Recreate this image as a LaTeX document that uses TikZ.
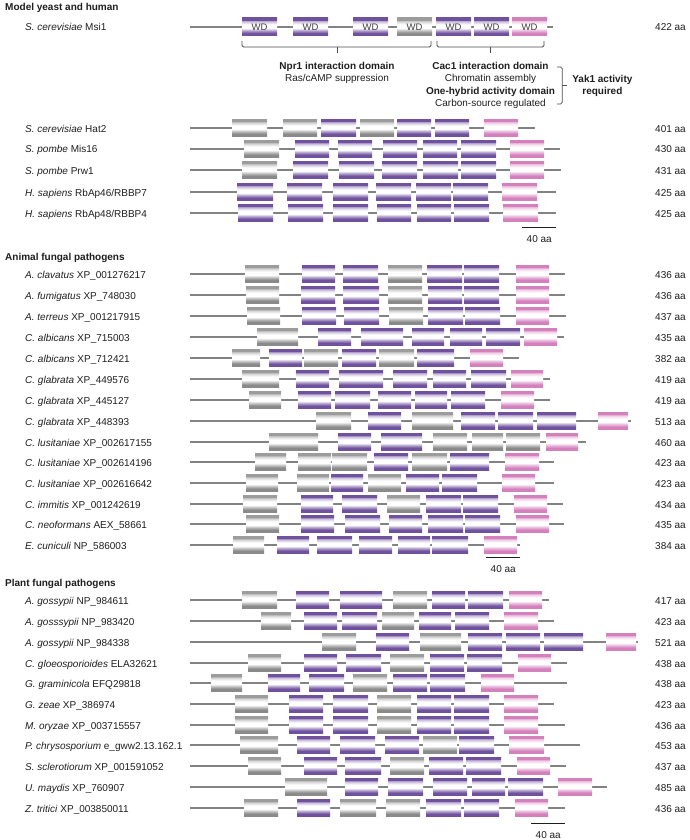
\documentclass[tikz,border=0pt]{standalone}
\usepackage{fontspec}
\setmainfont{Liberation Sans}
\usepackage{xcolor}
\usepackage{tikz}
\usetikzlibrary{positioning,calc}
\definecolor{ink}{RGB}{30,30,30}
\definecolor{wdpurple}{RGB}{111,81,158}
\definecolor{wdpink}{RGB}{212,128,188}
\definecolor{wdgray}{RGB}{138,138,138}
\definecolor{linkgray}{RGB}{130,130,130}
\pgfdeclareverticalshading{bladep}{100bp}{color(0bp)=(wdpurple); color(33bp)=(wdpurple);
  color(40bp)=(wdpurple!55); color(47bp)=(white); color(57bp)=(white); color(64bp)=(wdpurple!30);
  color(68bp)=(wdpurple!55); color(69bp)=(wdpurple); color(100bp)=(wdpurple)}
\pgfdeclareverticalshading{bladek}{100bp}{color(0bp)=(wdpink); color(33bp)=(wdpink);
  color(40bp)=(wdpink!55); color(47bp)=(white); color(57bp)=(white); color(64bp)=(wdpink!30);
  color(68bp)=(wdpink!55); color(69bp)=(wdpink); color(100bp)=(wdpink)}
\pgfdeclareverticalshading{bladeg}{100bp}{color(0bp)=(wdgray); color(33bp)=(wdgray);
  color(40bp)=(wdgray!55); color(47bp)=(white); color(57bp)=(white); color(64bp)=(wdgray!30);
  color(68bp)=(wdgray!55); color(69bp)=(wdgray!85); color(100bp)=(wdgray!85)}
\tikzset{
  backbone/.style={line width=2.6pt,linkgray},
  blade/.style={shade,draw=none},
  wdbox/.style={blade,inner sep=0pt,outer sep=0pt,minimum height=18pt,
    font=\fontsize{9.5}{11}\selectfont,text=ink!85},
  rowlabel/.style={anchor=base west,inner sep=0pt,font=\fontsize{10}{12}\selectfont,text=ink},
  heading/.style={rowlabel,font=\fontsize{10}{12}\selectfont\bfseries},
  bracket/.style={line width=0.8pt,ink!80,rounded corners=1.5pt},
  domtext/.style={align=center,inner sep=0pt,font=\fontsize{10}{12.4}\selectfont,text=ink},
  scalebar/.style={line width=0.8pt,ink}
}
\begin{document}
\begin{tikzpicture}[x=1pt,y=-1pt]
  \useasboundingbox (0,0) rectangle (689,840);
  % group headings
  \node[heading] (hmodel) at (5,11) {Model yeast and human};
  \node[heading] (hanimal) at (5,260) {Animal fungal pathogens};
  \node[heading] (hplant) at (5,586) {Plant fungal pathogens};
  % Msi1 with its domains
  \draw[backbone] (190,27) -- ({190+0.86*422},27);
  \foreach \a/\b/\t [count=\i] in {242/277/p,293/328/p,353/388/p,397/432/g,436/471/p,474/509/p,512/547/k}
    \node[wdbox,shading=blade\t,minimum width={\b-\a}] (m\i) at ({(\a+\b)/2},27) {WD};
  \node[rowlabel] (msi1) at (25,31) {\textit{S. cerevisiae} Msi1};
  \node[rowlabel] (msi1len) at (655,31) {422 aa};
  \coordinate (npr) at ($(m1.south west)!0.5!(m4.south east)$);
  \coordinate (cac) at ($(m5.south west)!0.5!(m7.south east)$);
  \draw[bracket] ([yshift=-5pt]m1.south west) |- ([xshift=-1pt,yshift=-11pt]m4.south east)
    -- ([xshift=-1pt,yshift=-5pt]m4.south east);
  \draw[bracket] ([yshift=-11pt]npr) -- ++(0,6);
  \draw[bracket] ([xshift=1pt,yshift=-5pt]m5.south west) |- ([xshift=-3pt,yshift=-11pt]m7.south east)
    -- ([xshift=-3pt,yshift=-5pt]m7.south east);
  \draw[bracket] ([xshift=-1pt,yshift=-11pt]cac) -- ++(0,6);
  \node[domtext,anchor=north] (nprtxt) at ([yshift=-26pt]npr)
    {\textbf{Npr1 interaction domain}\\Ras/cAMP suppression};
  \node[domtext,anchor=north] (cactxt) at ([xshift=-1pt,yshift=-26pt]cac)
    {\textbf{Cac1 interaction domain}\\Chromatin assembly\\
     \textbf{One-hybrid activity domain}\\Carbon-source regulated};
  \draw[bracket] ([xshift=2pt,yshift=-5pt]cactxt.north east) -- ++(5,0)
    |- ([xshift=2pt,yshift=5pt]cactxt.south east);
  \coordinate (yakmid) at ($(cactxt.north east)!0.5!(cactxt.south east)$);
  \draw[bracket] ([xshift=7pt]yakmid) -- ++(5,0);
  \node[domtext,font=\fontsize{10}{12}\selectfont\bfseries,right=17pt of yakmid] (yak1)
    {Yak1 activity\\required};
  % homologues: row y / species / id / length / blades
  \foreach \y/\sp/\id/\len/\boxes in {
    128/{S. cerevisiae}/Hat2/401/{232/267/g,283/317/g,321/356/p,360/394/g,397/431/p,435/469/p,484/518/k},
    149/{S. pombe}/Mis16/430/{244/279/g,295/329/p,338/372/p,383/417/p,423/457/p,461/496/p,510/544/k},
    170/{S. pombe}/Prw1/431/{242/277/g,293/328/p,339/374/p,382/417/p,423/458/p,461/496/p,510/544/k},
    192/{H. sapiens}/{RbAp46/RBBP7}/425/{237/273/p,287/322/p,333/368/p,376/411/p,416/451/p,453/488/p,502/537/k},
    213/{H. sapiens}/{RbAp48/RBBP4}/425/{238/273/p,288/323/p,333/368/p,377/411/p,417/451/p,454/489/p,503/538/k},
    274/{A. clavatus}/XP\_001276217/436/{245/279/g,302/335/p,343/378/p,388/422/g,427/462/p,464/499/p,516/549/k},
    295/{A. fumigatus}/XP\_748030/436/{246/279/g,301/335/p,343/379/p,388/422/g,428/462/p,464/499/p,516/549/k},
    316/{A. terreus}/XP\_001217915/437/{247/280/g,302/336/p,344/379/p,389/423/g,428/463/p,465/500/p,516/549/k},
    337/{C. albicans}/XP\_715003/435/{257/298/g,318/351/p,361/403/p,412/444/p,450/482/p,486/520/p,524/557/k},
    358/{C. albicans}/XP\_712421/382/{232/260/g,269/302/p,304/338/g,342/376/p,379/414/g,417/454/p,470/503/k},
    379/{C. glabrata}/XP\_449576/419/{242/279/g,296/329/p,339/383/p,393/427/p,433/466/p,471/506/p,511/543/k},
    400/{C. glabrata}/XP\_445127/419/{249/281/g,298/331/p,335/370/p,378/411/p,415/447/p,451/485/p,501/534/k},
    421/{C. glabrata}/XP\_448393/513/{316/351/g,368/401/p,412/453/g,461/495/p,498/533/p,537/576/p,598/628/k},
    442/{C. lusitaniae}/XP\_002617155/460/{269/318/g,338/371/p,381/422/p,433/467/g,472/503/g,506/540/g,546/578/k},
    462/{C. lusitaniae}/XP\_002614196/423/{255/286/g,298/331/g,332/367/g,374/408/p,412/447/g,450/489/p,505/539/k},
    483/{C. lusitaniae}/XP\_002616642/423/{246/278/g,297/329/g,331/363/p,368/401/g,406/439/p,442/477/p,502/535/k},
    504/{C. immitis}/XP\_001242619/434/{243/277/g,301/333/p,342/377/p,387/420/g,426/461/p,463/498/p,514/547/k},
    524/{C. neoformans}/AEX\_58661/435/{246/279/g,301/334/p,345/380/p,389/422/p,428/463/p,465/500/p,516/549/k},
    545/{E. cuniculi}/NP\_586003/384/{233/264/g,277/309/p,317/352/p,359/392/p,398/430/p,432/468/p,484/517/k},
    600/{A. gossypii}/NP\_984611/417/{242/277/g,296/329/p,340/382/p,393/427/g,432/465/p,468/503/p,509/542/k},
    621/{A. gosssypii}/NP\_983420/423/{261/291/g,304/337/p,342/377/p,382/414/g,419/451/p,455/489/p,504/538/k},
    642/{A. gossypii}/NP\_984338/521/{322/356/g,376/409/p,420/461/g,468/502/p,506/540/p,544/583/p,606/636/k},
    663/{C. gloeosporioides}/ELA32621/438/{248/281/g,304/337/p,346/381/p,390/424/g,430/464/p,467/502/p,518/551/k},
    683/{G. graminicola}/EFQ29818/438/{211/242/g,268/300/p,309/344/p,353/387/g,393/427/p,430/465/p,481/514/k},
    704/{G. zeae}/XP\_386974/423/{235/268/g,289/323/p,333/368/p,377/411/g,417/451/p,454/489/p,504/538/k},
    725/{M. oryzae}/XP\_003715557/436/{235/268/g,289/323/p,333/368/p,377/411/g,417/451/p,454/489/p,504/538/k},
    745/{P. chrysosporium}/e\_gww2.13.162.1/453/{240/278/g,297/330/p,340/375/p,385/419/p,423/457/g,459/494/p,509/544/k},
    766/{S. sclerotiorum}/XP\_001591052/437/{248/281/g,304/337/p,345/381/p,390/424/g,429/463/p,466/501/p,517/550/k},
    787/{U. maydis}/XP\_760907/485/{285/327/g,345/378/p,388/423/p,433/467/p,472/505/p,508/543/p,558/592/k},
    808/{Z. tritici}/XP\_003850011/436/{244/278/g,297/330/p,340/376/g,386/420/g,426/461/p,464/499/p,515/548/k}}
  {
    \draw[backbone] (190,\y) -- ({190+0.86*\len},\y);
    \foreach \a/\b/\t in \boxes
      \path[blade,shading=blade\t] (\a,\y-8.5) rectangle (\b,\y+8.5);
    \node[rowlabel] (lab\y) at (25,\y+4) {\textit{\sp} \id};
    \node[rowlabel] (len\y) at (655,\y+4) {\len\ aa};
  }
  % scale bars
  \foreach \x/\y [count=\i] in {522/227,486/557,531/823}
    \draw[scalebar] (\x,\y) -- ++({40*0.86},0)
      node[rowlabel,anchor=base,midway,yshift=-15.5pt] (bar\i) {40 aa};
\end{tikzpicture}
\end{document}
